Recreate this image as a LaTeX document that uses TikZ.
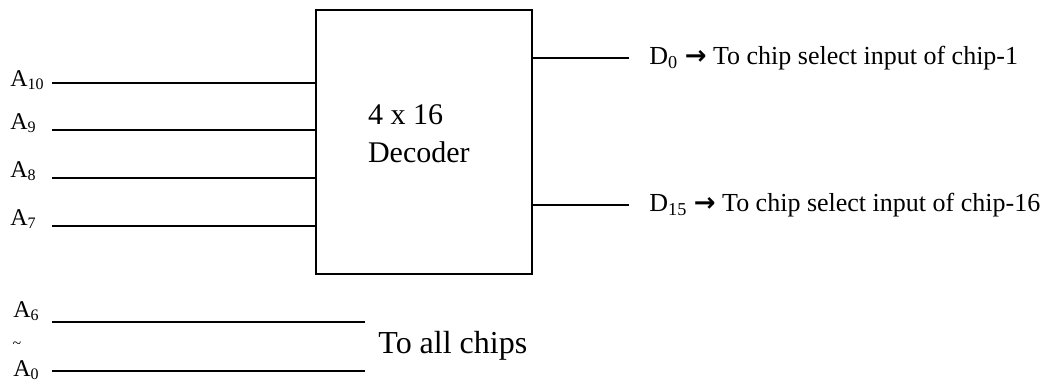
\documentclass[tikz,border=0pt]{standalone}
\usepackage{fontspec}
\setmainfont{Liberation Serif}
\newfontfamily\arrfont{DejaVu Sans}
\usetikzlibrary{positioning}

\begin{document}
\begin{tikzpicture}[x=0.5pt,y=-0.5pt,
  decbox/.style={draw,line width=1pt,minimum width=108pt,minimum height=132pt,inner sep=0pt},
  wire/.style={line width=1pt},
  alab/.style={font=\fontsize{12}{14}\selectfont,inner sep=0pt,anchor=base west},
  outlab/.style={font=\fontsize{13}{15}\selectfont,inner sep=0pt,anchor=west}
]
\useasboundingbox (0,0) rectangle (1059,381);

% decoder block
\node[decbox] (dec) at (424,142) {};
\node[font=\fontsize{15}{19}\selectfont,align=left,anchor=west] (declbl) at (361,134) {4 x 16\\Decoder};

% address inputs to the decoder
\coordinate (a10) at (52,83);
\coordinate (a9)  at (52,130);
\coordinate (a8)  at (52,178);
\coordinate (a7)  at (52,226);
\draw[wire] (a10) -- (a10 -| dec.west);
\draw[wire] (a9)  -- (a9 -| dec.west);
\draw[wire] (a8)  -- (a8 -| dec.west);
\draw[wire] (a7)  -- (a7 -| dec.west);
\node[alab] (la10) at (10,86)  {A\textsubscript{10}};
\node[alab] (la9)  at (10,129) {A\textsubscript{9}};
\node[alab] (la8)  at (10,177) {A\textsubscript{8}};
\node[alab] (la7)  at (10,225) {A\textsubscript{7}};

% decoder outputs
\coordinate (d0)  at (629,58);
\coordinate (d15) at (629,205);
\draw[wire] (dec.east |- d0)  -- (d0);
\draw[wire] (dec.east |- d15) -- (d15);
\node[outlab,right=10pt of d0]  (ld0)  {D\textsubscript{0} {\arrfont\bfseries →} To chip select input of chip-1};
\node[outlab,right=10pt of d15] (ld15) {D\textsubscript{15} {\arrfont\bfseries →} To chip select input of chip-16};

% lower address lines
\coordinate (a6s) at (52,322);
\coordinate (a6e) at (365,322);
\coordinate (a0s) at (52,371);
\coordinate (a0e) at (365,371);
\draw[wire] (a6s) -- (a6e);
\draw[wire] (a0s) -- (a0e);
\node[alab] (la6) at (13,317) {A\textsubscript{6}};
\node[alab] (la0) at (13,376) {A\textsubscript{0}};
\node[font=\fontsize{8}{8}\selectfont,inner sep=0pt] (tld) at (17,345) {\textasciitilde};
\node[font=\fontsize{16}{18}\selectfont,inner sep=0pt,anchor=west] (allc) at (378,346) {To all chips};
\end{tikzpicture}
\end{document}
